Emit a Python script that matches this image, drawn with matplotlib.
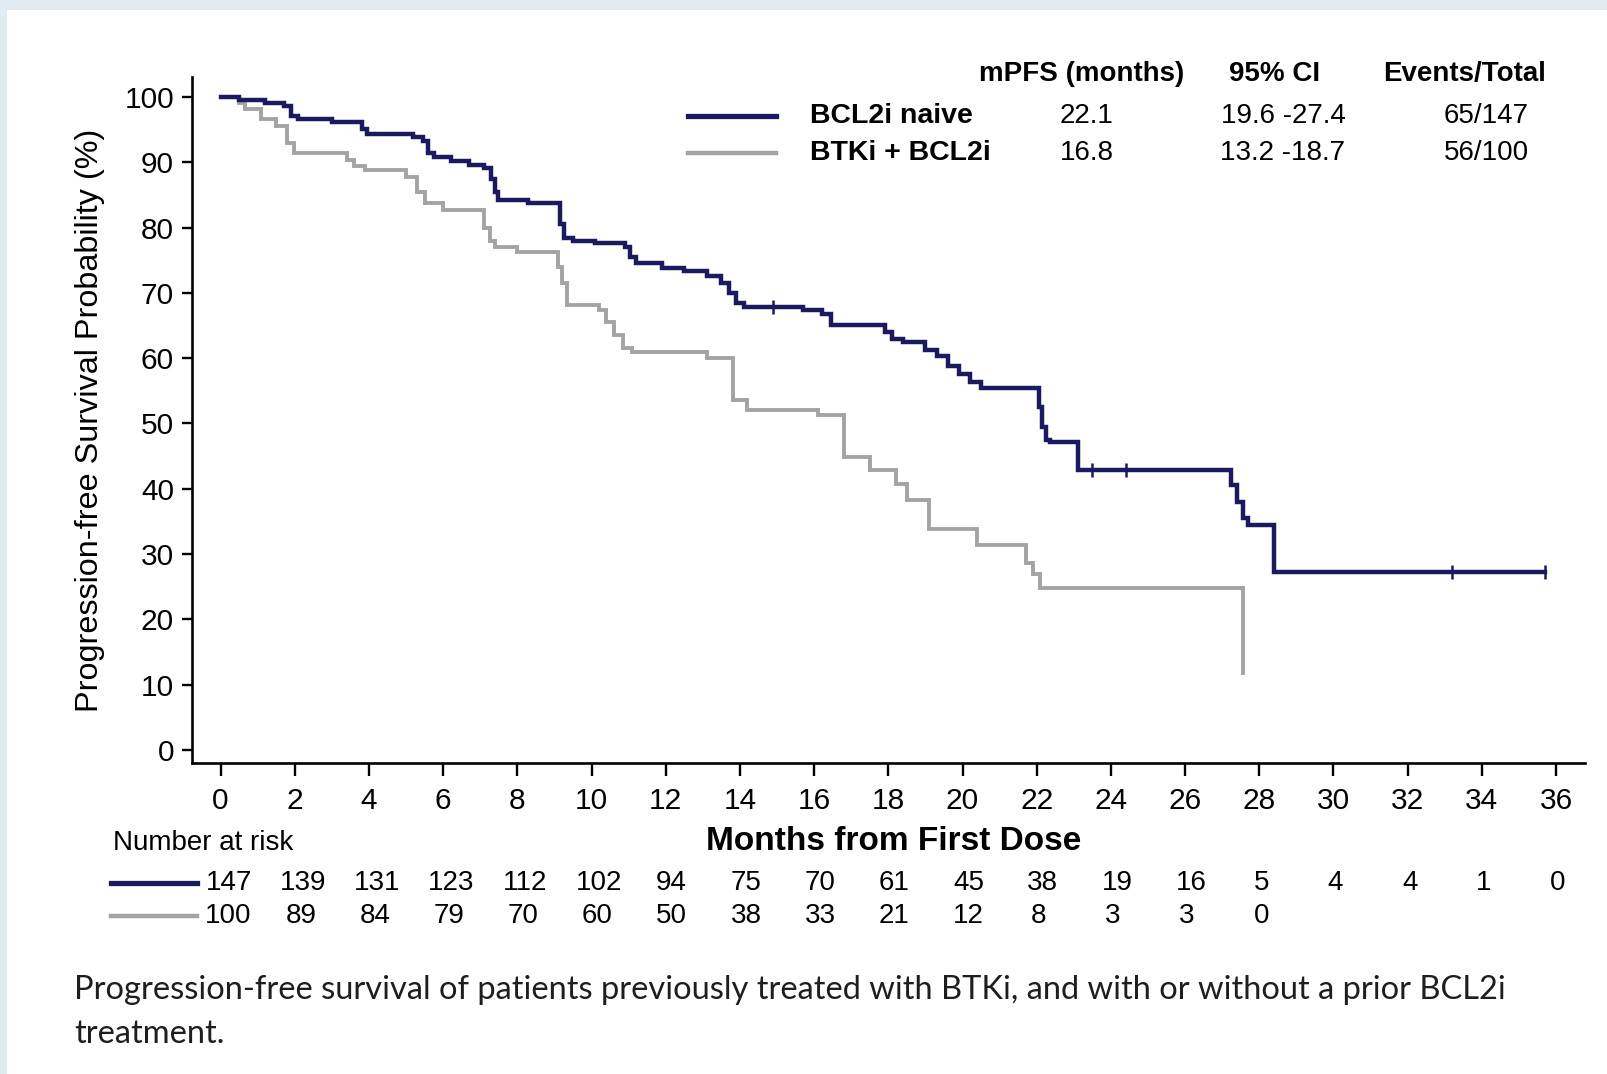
import matplotlib
matplotlib.use('Agg')
import matplotlib.pyplot as plt
from matplotlib.lines import Line2D
from matplotlib.patches import Rectangle
import matplotlib.transforms as mtransforms

W, H = 1608, 1074
NAVY = '#1b1a5e'
GRAY = '#a3a3a3'
FONT = 'Liberation Sans'

# ---------------- data ----------------
naive_t = [0, 0.5, 1.2, 1.7, 1.9, 2.1, 3.0, 3.8, 3.95, 5.2, 5.45, 5.6, 5.75, 6.2, 6.7,
           7.1, 7.3, 7.4, 7.47, 8.3, 9.15, 9.25, 9.5, 10.1, 10.9, 11.05, 11.2, 11.9,
           12.5, 13.1, 13.5, 13.7, 13.9, 14.1, 15.7, 16.2, 16.45, 17.9, 18.1, 18.4,
           19.0, 19.3, 19.6, 19.9, 20.2, 20.5, 22.05, 22.15, 22.25, 22.35, 23.1,
           27.25, 27.4, 27.55, 27.7, 28.4]
naive_s = [100, 99.6, 99.1, 98.6, 97.1, 96.6, 96.1, 95.1, 94.4, 93.8, 93.2, 91.4, 90.8,
           90.2, 89.6, 89.1, 87.5, 85.5, 84.2, 83.7, 80.5, 78.4, 78.0, 77.6, 77.1, 75.5,
           74.5, 73.8, 73.3, 72.6, 71.5, 70.0, 68.5, 67.9, 67.4, 66.8, 65.1, 64.0, 63.0,
           62.5, 61.2, 60.3, 58.8, 57.5, 56.3, 55.4, 52.5, 49.5, 47.5, 47.2, 42.9, 40.5,
           38.0, 35.5, 34.5, 27.3]
naive_end = 35.7
naive_cens_t = [14.9, 23.5, 24.4, 33.2, 35.7]
naive_cens_s = [67.9, 42.9, 42.9, 27.3, 27.3]

prior_t = [0, 0.5, 0.67, 1.1, 1.5, 1.8, 1.98, 3.4, 3.6, 3.9, 5.0, 5.3, 5.5, 6.0, 7.1,
           7.25, 7.4, 8.0, 9.1, 9.2, 9.35, 10.2, 10.4, 10.6, 10.85, 11.1, 13.1, 13.8,
           14.2, 16.1, 16.8, 17.5, 18.2, 18.5, 19.1, 20.4, 21.7, 21.9, 22.1, 27.55]
prior_s = [100, 99.1, 98.1, 96.6, 95.5, 93.0, 91.4, 90.3, 89.4, 88.8, 87.8, 85.5, 83.7,
           82.7, 80.0, 78.0, 77.1, 76.3, 74.0, 71.5, 68.1, 67.4, 65.5, 63.5, 61.5, 61.0,
           60.0, 53.6, 52.0, 51.3, 44.9, 42.8, 40.8, 38.3, 33.9, 31.4, 28.6, 27.0, 24.8,
           11.8]
prior_end = 27.55

months = list(range(0, 37, 2))
yticks = list(range(0, 101, 10))
risk_naive = [147, 139, 131, 123, 112, 102, 94, 75, 70, 61, 45, 38, 19, 16, 5, 4, 4, 1, 0]
risk_prior = [100, 89, 84, 79, 70, 60, 50, 38, 33, 21, 12, 8, 3, 3, 0]

legend_names = ['BCL2i naive', 'BTKi + BCL2i']
mpfs_vals = ['22.1', '16.8']
ci_vals = ['19.6 -27.4', '13.2 -18.7']
events_vals = ['65/147', '56/100']
headers = ['mPFS (months)', '95% CI', 'Events/Total']

ylabel = 'Progression-free Survival Probability (%)'
xlabel = 'Months from First Dose'
caption1 = ('Progression-free survival of patients previously treated with BTKi, '
            'and with or without a prior BCL2i')
caption2 = 'treatment.'

# ---------------- figure ----------------
plt.rcParams['font.family'] = [FONT, 'DejaVu Sans']
fig = plt.figure(figsize=(W / 100, H / 100), dpi=100)
fig.patch.set_facecolor('white')


def fx(x):
    return x / W


def fy(y):
    return 1 - y / H


# light frame on top/left
fig.add_artist(Rectangle((0, fy(10)), 1, 10 / H, transform=fig.transFigure,
                         color='#e3ebf2', zorder=-10, lw=0))
fig.add_artist(Rectangle((0, 0), 7 / W, 1, transform=fig.transFigure,
                         color='#e3ebf2', zorder=-10, lw=0))

ax = fig.add_axes([fx(192), fy(763), (1585 - 192) / W, (763 - 77) / H])
ax.set_xlim(-0.77, 36.78)
ax.set_ylim(-2, 103.06)
for s in ['top', 'right']:
    ax.spines[s].set_visible(False)
for s in ['left', 'bottom']:
    ax.spines[s].set_linewidth(1.9)
    ax.spines[s].set_color('black')

ax.step(prior_t + [prior_end], prior_s + [prior_s[-1]], where='post',
        color=GRAY, lw=2.8, solid_joinstyle='miter')
ax.step(naive_t + [naive_end], naive_s + [naive_s[-1]], where='post',
        color=NAVY, lw=3.2, solid_joinstyle='miter')
ax.plot(naive_cens_t, naive_cens_s, ls='none', marker='|', ms=10, mew=1.8, color=NAVY)

ax.set_xticks(months)
ax.set_xticklabels([str(m) for m in months])
ax.set_yticks(yticks)
ax.set_yticklabels([str(v) for v in yticks])
ax.tick_params(axis='x', length=9, width=1.7, pad=8, labelsize=21.5, direction='out')
ax.tick_params(axis='y', length=7, width=1.7, pad=6, labelsize=21.5, direction='out')

fig.text(fx(90), fy(420), ylabel, rotation=90, ha='center', va='center', fontsize=23.3)
fig.text(fx(894), fy(841), xlabel, ha='center', va='center', fontsize=24,
         fontweight='bold')

# ---------------- legend table ----------------
hdr_x = [1082, 1275, 1465]
for h, x in zip(headers, hdr_x):
    fig.text(fx(x), fy(74), h, ha='center', va='center', fontsize=20, fontweight='bold')
row_y = [116, 153]
colors = [NAVY, GRAY]
lws = [3.8, 3.2]
for i in range(2):
    y = row_y[i]
    fig.add_artist(Line2D([fx(688), fx(776)], [fy(y), fy(y)], transform=fig.transFigure,
                          color=colors[i], lw=lws[i]))
    fig.text(fx(810), fy(y), legend_names[i], ha='left', va='center', fontsize=20.5,
             fontweight='bold')
    fig.text(fx(1087), fy(y), mpfs_vals[i], ha='center', va='center', fontsize=20)
    fig.text(fx(1283), fy(y), ci_vals[i], ha='center', va='center', fontsize=20)
    fig.text(fx(1486), fy(y), events_vals[i], ha='center', va='center', fontsize=20)

# ---------------- number at risk ----------------
fig.text(fx(113), fy(843), 'Number at risk', ha='left', va='center', fontsize=20)
blend = mtransforms.blended_transform_factory(ax.transData, fig.transFigure)
risk_rows = [risk_naive, risk_prior]
risk_y = [883, 916]
for i in range(2):
    y = risk_y[i]
    fig.add_artist(Line2D([fx(111), fx(197)], [fy(y), fy(y)], transform=fig.transFigure,
                          color=colors[i], lw=lws[i]))
    for m, n in zip(months, risk_rows[i]):
        nd = len(str(n))
        shift = {1: 2, 2: 6, 3: 8}[nd] / 100.0
        tr = blend + mtransforms.ScaledTranslation(shift, 0, fig.dpi_scale_trans)
        ax.text(m, fy(y), str(n), transform=tr, ha='center', va='center',
                fontsize=20, clip_on=False)

# ---------------- caption ----------------
cap1 = fig.text(fx(74), fy(990), caption1, ha='left', va='center', fontsize=26,
                family=['Lato', 'DejaVu Sans'], color='#1e1e1e')
fig.canvas.draw()
w = cap1.get_window_extent().width
cs = 26 * 1429 / w
cap1.set_fontsize(cs)
fig.text(fx(74), fy(1034), caption2, ha='left', va='center', fontsize=cs,
         family=['Lato', 'DejaVu Sans'], color='#1e1e1e')

fig.savefig('out.png', dpi=100, facecolor='white')
